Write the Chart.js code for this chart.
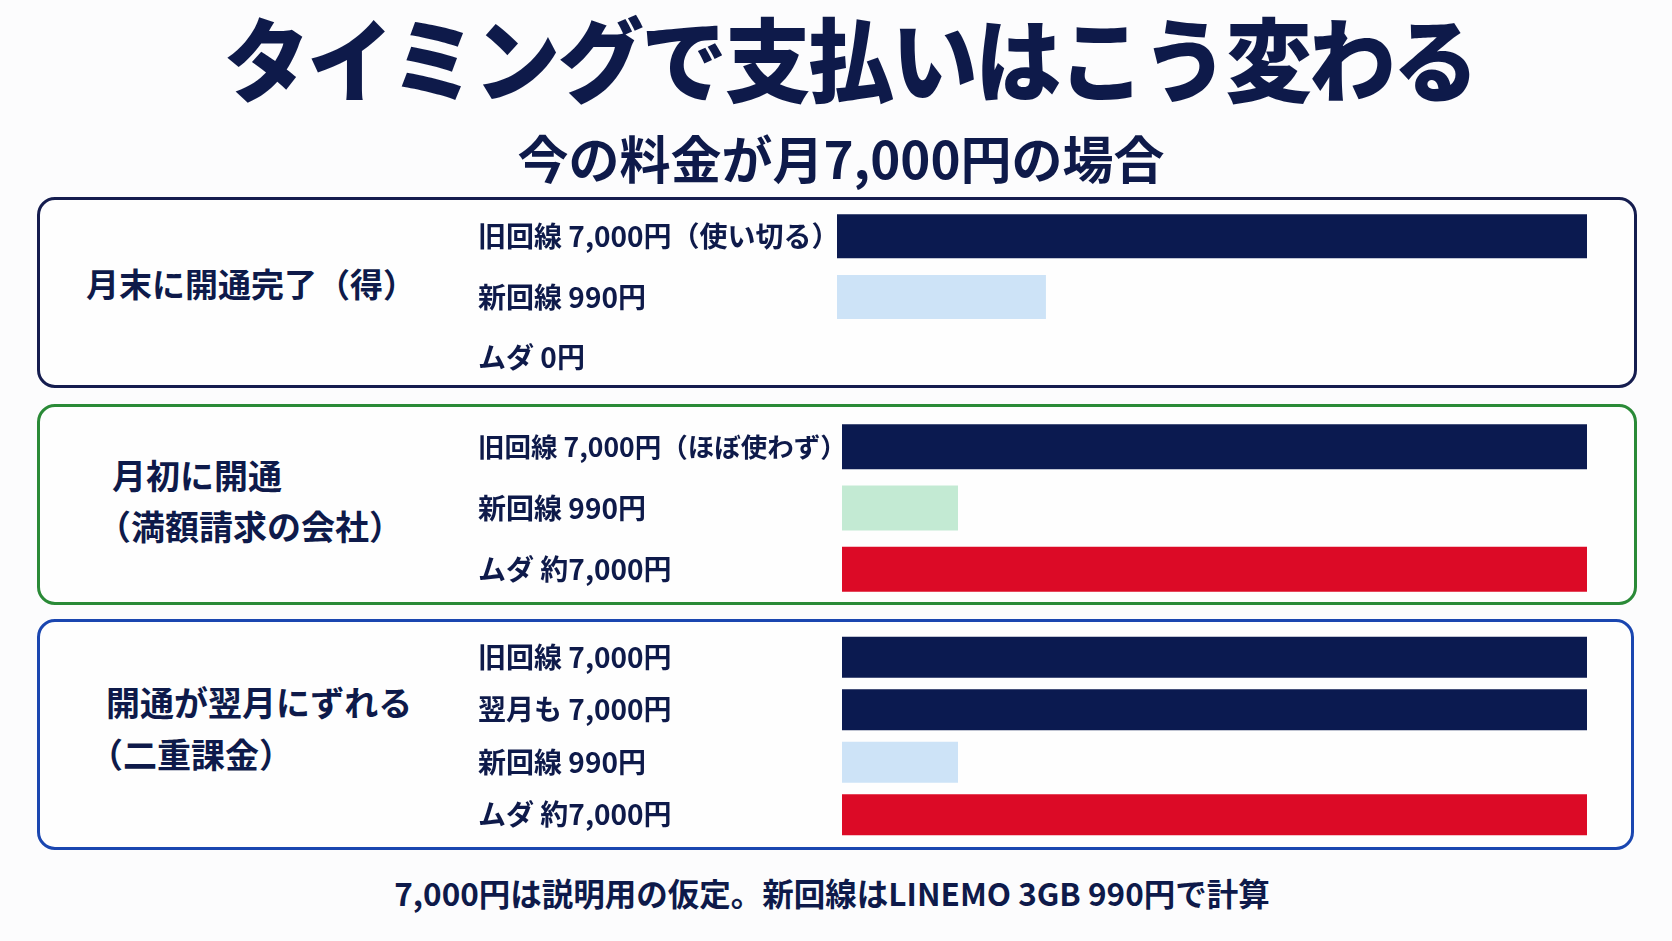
<!DOCTYPE html>
<html lang="ja">
<head>
<meta charset="utf-8">
<script src="https://cdn.jsdelivr.net/npm/chart.js@4.4.1/dist/chart.umd.min.js"></script>
<style>
  html, body { margin: 0; padding: 0; }
  body { width: 1672px; height: 941px; background: #fcfcfd; position: relative; overflow: hidden;
         font-family: "Noto Sans CJK JP", "Noto Sans", sans-serif; color: #0e1a4a; }
  .t { position: absolute; white-space: nowrap; line-height: 1; font-weight: 700; }
  .panel { position: absolute; box-sizing: border-box; border: 3px solid; border-radius: 18px; background: #fefefe; }
  .cv { position: absolute; }
</style>
</head>
<body>
<div class="t" id="title" style="left:850px; top:13px; font-size:86px; font-weight:900; letter-spacing:-2.5px; transform:translateX(-50%) scaleY(1.06);">タイミングで支払いはこう変わる</div>
<div class="t" id="subtitle" style="left:841px; top:132px; font-size:51px; transform:translateX(-50%);">今の料金が月7,000円の場合</div>

<div class="panel" style="left:37px; top:197px; width:1600px; height:191px; border-color:#151d4f;"></div>
<div class="panel" style="left:37px; top:404px; width:1600px; height:201px; border-color:#2a8a37;"></div>
<div class="panel" style="left:37px; top:619px; width:1597px; height:231px; border-color:#1a46b0;"></div>

<div class="t" style="left:86px; top:267px; font-size:33px;">月末に開通完了（得）</div>
<div class="t" style="left:112px; top:458px; font-size:34px;">月初に開通</div>
<div class="t" style="left:97px; top:509px; font-size:34px;">（満額請求の会社）</div>
<div class="t" style="left:106px; top:685px; font-size:34px;">開通が翌月にずれる</div>
<div class="t" style="left:89px; top:737px; font-size:34px;">（二重課金）</div>

<div class="t" id="foot" style="left:832px; top:877px; font-size:31.5px; transform:translateX(-50%);">7,000円は説明用の仮定。新回線はLINEMO 3GB 990円で計算</div>

<div class="cv" style="left:478px; top:176px;"><canvas id="c1" width="1109" height="242"></canvas></div>
<div class="cv" style="left:478px; top:386px;"><canvas id="c2" width="1109" height="244"></canvas></div>
<div class="cv" style="left:478px; top:601px;"><canvas id="c3" width="1109" height="270"></canvas></div>

<script>
// ---- data ----
const maxValue = 7000;

const case1Rows = ['旧回線 7,000円（使い切る）', '新回線 990円', 'ムダ 0円'];
const case1Values = [7000, 1950, 0];

const case2Rows = ['旧回線 7,000円（ほぼ使わず）', '新回線 990円', 'ムダ 約7,000円'];
const case2Values = [7000, 1090, 7000];

const case3Rows = ['旧回線 7,000円', '翌月も 7,000円', '新回線 990円', 'ムダ 約7,000円'];
const case3Values = [7000, 7000, 1090, 7000];

// ---- styles ----
const NAVY = '#0b1a50', LIGHTBLUE = '#cde3f7', LIGHTGREEN = '#c3ead3', RED = '#dc0a26';
const case1Colors = [NAVY, LIGHTBLUE, RED];
const case2Colors = [NAVY, LIGHTGREEN, RED];
const case3Colors = [NAVY, NAVY, LIGHTBLUE, RED];

function makeChart(id, rows, values, colors, axisWidth, thickness, labelSizes) {
  new Chart(document.getElementById(id), {
    type: 'bar',
    data: {
      labels: rows,
      datasets: [{ data: values, backgroundColor: colors, borderWidth: 0,
                   barThickness: thickness, inflateAmount: 0 }]
    },
    options: {
      indexAxis: 'y',
      responsive: false,
      animation: false,
      devicePixelRatio: 1,
      layout: { padding: { top: 30, bottom: 30, left: 0, right: 0 } },
      plugins: { legend: { display: false }, tooltip: { enabled: false } },
      scales: {
        x: { type: 'linear', min: 0, max: maxValue, display: false },
        y: {
          grid: { display: false },
          border: { display: false },
          afterFit: (s) => { s.width = axisWidth; },
          ticks: {
            crossAlign: 'far',
            padding: 0,
            color: '#0e1a4a',
            font: (c) => ({ family: '"Noto Sans CJK JP"', weight: 'bold',
                            size: (labelSizes && labelSizes[c.index]) || 28 })
          }
        }
      }
    }
  });
}

makeChart('c1', case1Rows, case1Values, case1Colors, 359, 44);
makeChart('c2', case2Rows, case2Values, case2Colors, 364, 45, [26.5]);
makeChart('c3', case3Rows, case3Values, case3Colors, 364, 41);
</script>
</body>
</html>
